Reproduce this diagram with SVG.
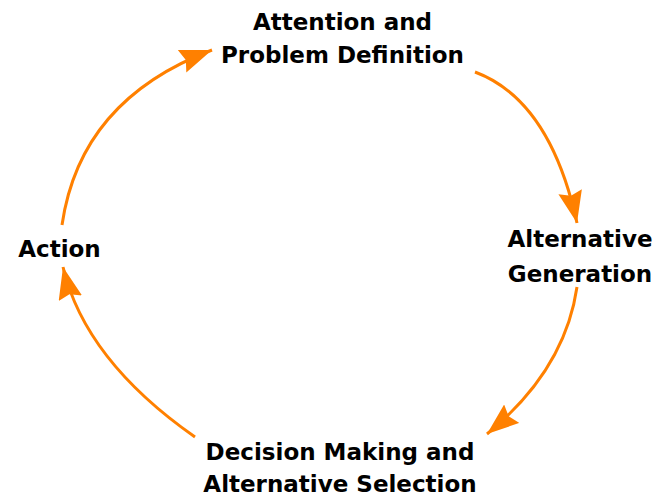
<svg xmlns="http://www.w3.org/2000/svg" width="657" height="497" viewBox="0 0 657 497">
<style>
  .lbl { font-family: "DejaVu Sans", Verdana, sans-serif; font-weight: bold; font-size: 23px; fill: #000; text-anchor: middle; }
  .conn { fill: none; stroke: #ff8000; stroke-width: 3; marker-end: url(#ah); }
</style>
<defs>
  <marker id="ah" markerUnits="userSpaceOnUse" markerWidth="34" markerHeight="26" refX="32" refY="12" orient="auto">
    <path d="M0,0 L32,12 L0,24 L4,12 Z" fill="#ff8000"/>
  </marker>
</defs>
<rect width="657" height="497" fill="#fff"/>
<g id="connectors">
  <path class="conn" d="M62,225 Q80,100 212,50"/>
  <path class="conn" d="M475,72 Q550,100 577,223"/>
  <path class="conn" d="M577,287 Q565,370 487,434"/>
  <path class="conn" d="M195,437 Q85,360 63,267"/>
</g>
<g id="node-attention">
  <text class="lbl" x="342.5" y="30">Attention and</text>
  <text class="lbl" x="342.5" y="63">Problem Definition</text>
</g>
<g id="node-alternative">
  <text class="lbl" x="580" y="247">Alternative</text>
  <text class="lbl" x="580" y="282">Generation</text>
</g>
<g id="node-decision">
  <text class="lbl" x="340" y="460">Decision Making and</text>
  <text class="lbl" x="340" y="492">Alternative Selection</text>
</g>
<g id="node-action">
  <text class="lbl" x="59.5" y="257">Action</text>
</g>
</svg>
